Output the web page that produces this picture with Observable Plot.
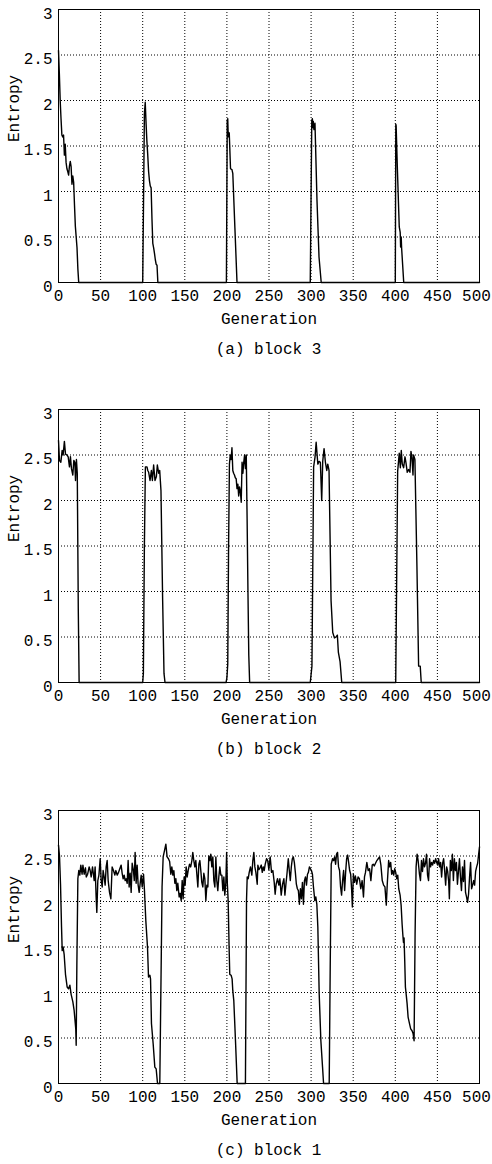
<!DOCTYPE html>
<html>
<head>
<meta charset="utf-8">
<script src="https://cdn.jsdelivr.net/npm/d3@7"></script>
<script src="https://cdn.jsdelivr.net/npm/@observablehq/plot@0.6"></script>
<style>
  html, body { margin: 0; padding: 0; background: #fff; }
  #wrap { position: relative; width: 492px; height: 1164px; overflow: hidden; }
  .panel { position: absolute; left: 0; width: 492px; }
  .cap { position: absolute; left: 58px; width: 421px; text-align: center;
         font-family: "Liberation Mono", "DejaVu Sans Mono", monospace; font-size: 16px; line-height: 18px; color: #000; }
</style>
</head>
<body>
<div id="wrap"></div>
<script>
// ---- data ----
const xTicks = [0, 50, 100, 150, 200, 250, 300, 350, 400, 450, 500];
const yTicks = [0, 0.5, 1, 1.5, 2, 2.5, 3];
const yTickLabels = ["0", "0.5", "1", "1.5", "2", "2.5", "3"];
const xLabel = "Generation";
const yLabel = "Entropy";
const captions = ["(a) block 3", "(b) block 2", "(c) block 1"];

// block 3
const block3Gen = [0,1,2,3,4,5,6,7,8,9,10,11,12,13,14,15,16,17,18,19,20,21,22,23,24,
  100,101,102,103,104,105,106,107,108,109,110,111,112,113,114,115,116,117,118,
  199.4,200.4,201,201.6,202.3,202.8,204.3,206,207,209.5,212,
  299,300.8,301.5,302.3,302.6,303.4,304.6,307,309.4,312,
  400,400.6,401,402.4,404.7,405.8,406,406.3,407,407.5,410,500];
const block3Entropy = [2.55,2.3,2.0,1.8,1.62,1.6,1.62,1.4,1.52,1.32,1.25,1.22,1.18,1.28,1.33,1.27,1.08,1.17,1.1,0.85,0.62,0.5,0.38,0.15,0,
  0,0.9,1.85,1.98,1.75,1.55,1.4,1.22,1.12,1.06,1.04,0.7,0.43,0.38,0.32,0.25,0.2,0.19,0,
  0,1.78,1.8,1.6,1.65,1.64,1.25,1.24,1.2,0.6,0,
  0,1.78,1.8,1.7,1.77,1.68,1.75,0.9,0.28,0,
  0,1.74,1.72,1.27,0.61,0.55,0.5,0.39,0.5,0.38,0,0];

// block 2
const block2Gen = [0,1.2,2.8,4.3,5.5,7,8.3,10,11.5,13,14.2,15.4,17,18.2,19.4,20.2,21.3,22.3,23.5,24.5,
  100,100.8,102,103.2,105.1,106,107.1,108.7,110.3,111.5,113,114.6,116.2,117.4,119,120.2,121.7,123.7,125.3,126.5,
  199,200,201,202,203,204,205,206,207,208,209,210,211,212,213,214,215,216,217,218,219,220,221,222,223,224,225,226,227,
  299,301,303,304.7,306,308,309.5,311,312.6,313.8,315.4,317,318.6,319.8,321.3,323.7,325.7,327.7,329.6,331.2,332.4,334.4,336.4,
  400.5,402.8,404.7,406,407.1,408.3,409.9,411.5,412.6,414.2,415.8,417.4,418.6,419.8,421,421.7,423.3,425.7,427.7,429.6,430.8,500];
const block2Entropy = [2.66,2.44,2.42,2.55,2.5,2.65,2.51,2.5,2.48,2.37,2.48,2.35,2.28,2.44,2.42,2.22,2.45,2.3,0.8,0,
  0,0.1,1.5,2.37,2.37,2.33,2.31,2.22,2.33,2.22,2.39,2.22,2.26,2.39,2.3,2.33,2.11,0.9,0.1,0,
  0,0.05,0.2,1.5,2.4,2.5,2.45,2.58,2.33,2.3,2.28,2.25,2.24,2.13,2.18,2.05,2.15,2.1,1.98,2.42,2.3,2.42,2.5,2.35,2.5,1.8,1.0,0.3,0,
  0,0.18,2.37,2.48,2.64,2.4,2.43,2.42,2.0,2.43,2.57,2.42,2.33,2.4,2.33,0.9,0.55,0.49,0.5,0.52,0.33,0.23,0,
  0,2.32,2.52,2.36,2.55,2.4,2.36,2.48,2.42,2.31,2.34,2.31,2.54,2.47,2.28,2.5,2.45,1.27,0.18,0.18,0,0];

// block 1
const block1Gen = [0,1.2,2.4,3.6,4.4,5.5,6.7,8.3,10.3,11.9,13.5,15,17,18.6,20.5,21,21.8,23,24.1,25.3,26.5,28,29,30.5,32,33,34.6,36.4,37.6,38.8,40.4,42.4,43.5,44.7,45.5,46.7,48,49.5,
  50.7,51.9,53,54.2,55.4,56.6,57.8,59,60.6,62.2,63.7,65.3,66.9,68.1,69.7,71.3,72.8,74.4,75.6,76.8,78,79.2,80.4,81.6,82.7,83.9,85.1,86.3,87.5,89,90,91,92.2,93.4,94.6,95.8,97,98.2,99.4,
  101,102.1,103.7,105.7,106.9,108.5,109.3,110.4,112.4,114.4,116,117.6,120.3,122,123,124.3,125.9,127.5,129,130.6,132,133.4,134.6,135.8,137,138.2,139.4,140.5,141.7,143.3,144.5,145.7,146.9,148,149.2,
  150.4,151.6,152.8,154,155.6,157,158.4,159.5,160.7,161.9,163.1,164.3,165.5,166.7,167.9,169,170.2,171.4,172.6,173.8,175,176.2,177.4,178.5,179.7,180.9,182.1,183.3,184.5,185.7,186.9,188,189.2,
  190.4,191.6,192.8,194,195.2,196.4,197.5,198.7,199.7,200.5,201.5,202.6,203.4,205,206.2,207,208.2,210.2,212.2,222,223.3,224.1,225.3,226.5,228,229.6,230.8,232,233.2,234.4,236,236.8,238,239.4,
  240.8,242,243.2,244.3,245.5,247.1,248.5,249.8,251.4,253,254.6,256.2,257.3,258.5,260.1,261.7,262.9,264.5,266.1,267.7,268.9,270.1,271.3,272.9,274.1,275.3,276.5,277.7,278.9,280.1,281.3,282.5,
  283.7,284.9,286.1,287.3,288.5,289.7,290.9,292.1,293.3,294.5,295.7,296.8,298,299.2,300.4,301.6,302.8,304.4,305.6,306.8,308,309.6,311.6,313.6,314.8,321.5,322.7,323.9,325.5,326.7,327.9,329.1,
  330.2,331.4,332.6,333.8,335,336.2,337.4,338.6,339.8,341,342.2,343.4,344.6,345.8,347,348.2,349,350.2,351.4,352.6,354.2,355.8,357.4,359,360.6,362.2,363.4,364.6,366.2,367.8,369.4,371,372.6,
  373.8,375,376.5,378.1,379.7,381.3,382.9,384.5,386.1,387.7,389.3,390.5,392.1,393.3,394.5,395.7,396.9,398.1,399.3,400.5,401.7,402.9,404.1,405.7,406.9,408.1,408.9,409.7,410.4,411.2,412,412.8,
  414,415.2,416.8,418.3,419.9,421.1,422.3,423.5,424.7,425.9,427.1,428.7,429.9,431.1,432.3,433.5,434.7,435.9,437.1,438.3,439.5,440.7,441.9,443.1,444.3,445.5,446.7,447.9,449.1,450.3,451.4,
  452.6,453.8,455,456.2,457.4,458.6,459.8,461,462.2,463.4,464.2,465.4,466.6,467.8,469,470.2,471.4,472.6,473.8,475,476.2,477.4,478.6,479.8,481,482.2,483.4,484.6,485.8,487,488.2,489.4,490.6,
  491.8,493,494.2,495.4,496.6,497.8,499,500];
const block1Entropy = [2.62,2.5,2.19,1.72,1.46,1.5,1.42,1.2,1.06,1.04,1.08,0.98,0.9,0.8,0.6,0.42,1.3,2.25,2.34,2.29,2.4,2.3,2.4,2.3,2.37,2.27,2.3,2.38,2.34,2.27,2.38,2.23,2.38,2.05,1.88,2.23,2.29,2.47,
  2.23,2.16,2.34,2.27,2.18,2.38,2.45,2.23,2.1,2.03,2.38,2.34,2.29,2.34,2.29,2.32,2.36,2.4,2.31,2.25,2.29,2.23,2.25,2.2,2.45,2.16,2.31,2.1,2.42,2.34,2.23,2.54,2.2,2.4,2.18,2.1,2.2,2.29,2.16,
  2.3,2.12,1.79,1.5,1.17,1.19,1.15,0.66,0.44,0.18,0.16,0,0,1.35,2.16,2.49,2.56,2.63,2.49,2.47,2.44,2.3,2.38,2.29,2.34,2.2,2.25,2.12,2.2,2.05,2.09,2.01,2.23,2.03,2.27,
  2.18,2.38,2.27,2.34,2.41,2.38,2.45,2.54,2.45,2.38,2.45,2.3,2.16,2.41,2.45,2.34,2.21,2.16,2.31,2.25,2.01,2.18,2.16,2.5,2.45,2.52,2.38,2.49,2.23,2.16,2.49,2.23,2.12,
  2.27,2.38,2.29,2.29,2.12,2.27,2.07,2.2,2.54,2.2,2.01,1.5,1.2,1.19,1.15,1.02,0.91,0.47,0,0,2.01,2.27,2.25,2.32,2.38,2.29,2.45,2.54,2.38,2.32,2.19,2.4,2.35,2.37,
  2.4,2.32,2.38,2.34,2.41,2.47,2.45,2.35,2.49,2.32,2.34,2.21,2.08,2.19,2.25,2.18,2.25,2.07,2.19,2.25,2.07,2.19,2.3,2.47,2.34,2.23,2.38,2.47,2.49,2.43,2.32,2.19,
  2.14,2.12,1.97,2.14,2.03,2.21,1.97,2.23,2.27,2.18,2.3,2.32,2.38,2.36,2.34,2.3,2.16,2.01,2.05,1.97,1.72,0.99,0.47,0.18,0,0,1.28,2.41,2.47,2.45,2.49,2.41,
  2.52,2.54,2.38,2.34,2.16,2.07,2.23,2.34,2.12,2.32,2.47,2.51,2.43,2.34,2.3,2.12,1.94,2.3,2.21,2.28,2.19,2.27,2.25,2.14,2.23,2.05,2.27,2.32,2.43,2.34,2.36,2.23,2.4,
  2.41,2.39,2.42,2.45,2.47,2.49,2.4,2.23,2.18,2.16,1.96,2.2,2.45,2.38,2.43,2.3,2.34,2.29,2.36,2.32,2.25,2.29,2.14,2.07,1.96,1.75,1.64,1.55,1.6,1.35,1.06,0.99,
  0.88,0.73,0.66,0.6,0.58,0.55,0.47,1.64,2.38,2.52,2.45,2.3,2.23,2.45,2.33,2.47,2.38,2.42,2.52,2.29,2.23,2.47,2.38,2.43,2.4,2.45,2.42,2.47,2.43,2.4,2.47,
  2.38,2.43,2.27,2.42,2.47,2.34,2.18,2.38,2.33,2.22,2.03,2.45,2.34,2.52,2.23,2.47,2.34,2.43,2.19,2.33,2.47,2.27,2.12,2.38,2.22,2.45,2.1,2.05,1.99,2.08,2.27,2.43,2.14,
  2.18,2.23,2.18,2.33,2.38,2.42,2.52,2.6];

// ---- drawing ----
const font = '"Liberation Mono", "DejaVu Sans Mono", monospace';
const panels = [
  {gen: block3Gen, ent: block3Entropy, top: 0, cap: captions[0]},
  {gen: block2Gen, ent: block2Entropy, top: 400, cap: captions[1]},
  {gen: block1Gen, ent: block1Entropy, top: 801, cap: captions[2]}
];
const xTicksInner = xTicks.slice(0, -1);
const xTickLast = xTicks.slice(-1);
const wrap = document.getElementById("wrap");
for (const p of panels) {
  const data = p.gen.map((g, i) => ({gen: g, entropy: p.ent[i]}));
  const chart = Plot.plot({
    width: 492, height: 340,
    marginTop: 9, marginBottom: 58, marginLeft: 58, marginRight: 13,
    style: {fontFamily: font, fontSize: "16px", background: "white", color: "black"},
    x: {domain: [0, 500]},
    y: {domain: [0, 3]},
    marks: [
      Plot.gridX(xTicks.filter(d => d > 0 && d < 500), {stroke: "black", strokeOpacity: 1, strokeWidth: 1, strokeDasharray: "1,2"}),
      Plot.gridY(yTicks.filter(d => d > 0 && d < 3), {stroke: "black", strokeOpacity: 1, strokeWidth: 1, strokeDasharray: "1,2"}),
      Plot.line(data, {x: "gen", y: "entropy", stroke: "black", strokeWidth: 1.4}),
      Plot.frame({stroke: "black", strokeWidth: 1}),
      Plot.axisX(xTicksInner, {tickSize: 0, tickPadding: 7, label: null, fontSize: 16, tickFormat: d => String(d)}),
      Plot.axisX(xTickLast, {tickSize: 0, tickPadding: 7, dx: -3, label: null, fontSize: 16, tickFormat: d => String(d)}),
      Plot.axisY(yTicks, {tickSize: 0, tickPadding: 6, dy: 4, label: null, fontSize: 16, tickFormat: (d, i) => yTickLabels[i]}),
      Plot.text([xLabel], {frameAnchor: "bottom", dy: 41, fontSize: 16}),
      Plot.text([yLabel], {frameAnchor: "left", dx: -45, dy: -4, rotate: -90, fontSize: 16})
    ]
  });
  const div = document.createElement("div");
  div.className = "panel";
  div.style.top = p.top + "px";
  div.appendChild(chart);
  wrap.appendChild(div);
  const cap = document.createElement("div");
  cap.className = "cap";
  cap.style.top = (p.top + 341) + "px";
  cap.textContent = p.cap;
  wrap.appendChild(cap);
}
</script>
</body>
</html>
